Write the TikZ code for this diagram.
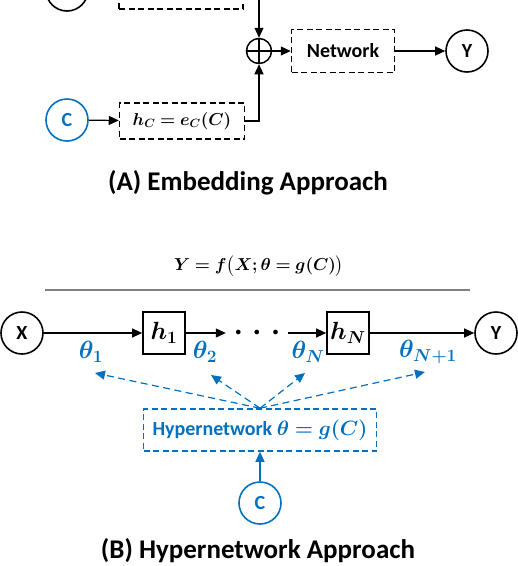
\documentclass[tikz,border=0pt]{standalone}
\usepackage{amsmath,bm}
\usepackage{fontspec}
\setsansfont{Carlito}
\usetikzlibrary{arrows.meta}
\definecolor{hblue}{RGB}{0,112,192}

\begin{document}
\begin{tikzpicture}[x=1pt, y=-1pt,
        font=\sffamily\bfseries\fontsize{20}{24}\selectfont,
        var/.style={circle, draw, line width=1.6pt, minimum size=42pt, inner sep=0pt},
        dbox/.style={draw, dash pattern=on 6pt off 3.5pt, line width=1.5pt, minimum height=36pt, inner sep=0pt},
        layer/.style={draw, line width=1.7pt, minimum size=42pt, inner sep=0pt, font=\fontsize{23}{26}\selectfont},
        conn/.style={line width=1.2pt, -{Triangle[length=10pt, width=9pt]}},
        hconn/.style={conn, hblue, dash pattern=on 7pt off 4.5pt},
        param/.style={text=hblue, font=\fontsize{24}{26}\selectfont},
        mth/.style={font=\fontsize{18}{22}\selectfont},
        title/.style={font=\sffamily\bfseries\fontsize{27}{30}\selectfont}]
        \clip (0,0) rectangle (518,566);
        % (A) embedding
        \node[var] (xa) at (67,-10) {};
        \node[dbox, minimum width=124pt] (ha) at (181,-9) {};
        \node[circle, draw, line width=1.5pt, minimum size=25pt, inner sep=0pt] (plus) at (259,51) {};
        \draw[line width=1.5pt] (plus.north) -- (plus.south) (plus.west) -- (plus.east);
        \node[dbox, minimum width=103pt, minimum height=43pt] (net) at (343,51) {Network};
        \node[var] (ya) at (467,51) {Y};
        \node[var, draw=hblue, text=hblue] (ca) at (67,120) {C};
        \node[dbox, mth, minimum width=125pt] (hc) at (182,121) {$\bm{h_C = e_C(C)}$};
        \draw[conn] (ha.east) -| (plus.north);
        \draw[conn] (hc.east) -| (plus.south);
        \draw[conn] (ca) -- (hc);
        \draw[conn] (plus) -- (net);
        \draw[conn] (net) -- (ya);
        \node[title] (ta) at (248,183) {(A) Embedding Approach};
        % (B) hypernetwork
        \node[font=\fontsize{17}{20}\selectfont] (fb) at (259,266) {$\bm{Y = f\bigl(X;\theta = g(C)\bigr)}$};
        \draw[gray, line width=1.3pt] (45,290) -- (470,290);
        \node[var] (xb) at (22,333) {X};
        \node[layer] (h1) at (164,333) {$\bm{h_1}$};
        \node[minimum width=62pt, inner sep=0pt, font=\fontsize{13}{13}\selectfont] (dots) at (257,333)
            {$\bullet\hspace{10pt}\bullet\hspace{10pt}\bullet$};
        \node[layer] (hn) at (348,333) {$\bm{h_N}$};
        \node[var] (yb) at (496,333) {Y};
        \draw[conn] (xb) -- (h1);
        \draw[conn] (h1) -- (dots);
        \draw[conn] (dots) -- (hn);
        \draw[conn] (hn) -- (yb);
        \node[param] (th1) at (91,352) {$\bm{\theta_1}$};
        \node[param] (th2) at (205,352) {$\bm{\theta_2}$};
        \node[param] (thn) at (308,352) {$\bm{\theta_N}$};
        \node[param] (thm) at (428,352) {$\bm{\theta_{N+1}}$};
        \node[dbox, draw=hblue, text=hblue, minimum width=233pt, minimum height=42pt] (hyp) at (260,430)
            {Hypernetwork $\bm{\theta = g(C)}$};
        \node[var, draw=hblue, text=hblue] (cb) at (260,503) {C};
        \coordinate (p1) at (95,373);
        \coordinate (p2) at (211,375);
        \coordinate (p3) at (305,373);
        \coordinate (p4) at (425,372);
        \foreach \p in {p1,p2,p3,p4}
            \draw[hconn] (hyp.north) -- (\p);
        \draw[conn, hblue] (cb) -- (hyp);
        \node[title] (tb) at (258,551) {(B) Hypernetwork Approach};
\end{tikzpicture}
\end{document}
